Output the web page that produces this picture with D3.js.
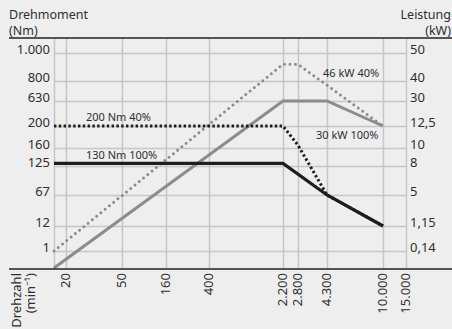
<!DOCTYPE html>
<html>
<head>
<meta charset="utf-8">
<script src="https://cdn.jsdelivr.net/npm/d3@7"></script>
<style>
  html, body { margin: 0; padding: 0; background: #eeeeee; }
  svg { display: block; }
  text { font-family: "Noto Sans", sans-serif; fill: #2e2e2e; }
</style>
</head>
<body>
<svg id="chart" width="452" height="329"></svg>
<script>
// Speed ticks (min^-1) and their labels
const speedTicks = [20, 50, 160, 400, 2200, 2800, 4300, 10000, 15000];
const speedLabels = ["20", "50", "160", "400", "2.200", "2.800", "4.300", "10.000", "15.000"];

// Torque ticks (Nm), left axis
const torqueTicks = [1000, 800, 630, 200, 160, 125, 67, 12, 1];
const torqueLabels = ["1.000", "800", "630", "200", "160", "125", "67", "12", "1"];

// Power ticks (kW), right axis, sharing the same grid rows
const powerTicks = [50, 40, 30, 12.5, 10, 8, 5, 1.15, 0.14];
const powerLabels = ["50", "40", "30", "12,5", "10", "8", "5", "1,15", "0,14"];

// Torque curves: [speed, torque]
const torque100 = [[0, 130], [2200, 130], [4300, 67], [10000, 12]];
const torque40 = [[0, 200], [2200, 200], [2800, 165], [4300, 67], [10000, 12]];

// Power curves: [speed, power]
const power100 = [[0, 0], [2200, 30], [4300, 30], [10000, 12.5]];
const power40 = [[0, 0.14], [2200, 46], [2800, 46], [10000, 12.5]];

const svg = d3.select("#chart");
const W = 452, H = 329;
const plot = { left: 54, right: 406, top: 38, bottom: 269 };

// Non-uniform (schematic) axes: piecewise linear scales over the tick positions
const x = d3.scaleLinear()
  .domain([0, 20, 50, 160, 400, 2200, 2800, 4300, 10000, 15000])
  .range([54, 66, 122, 166, 209, 283, 298, 327, 383, 406]);

const rowY = [268, 251, 226, 195, 166, 148, 126, 101, 81, 53];
const yT = d3.scaleLinear()
  .domain([0, 1, 12, 67, 125, 160, 200, 630, 800, 1000])
  .range(rowY);
const yP = d3.scaleLinear()
  .domain([0, 0.14, 1.15, 5, 8, 10, 12.5, 30, 40, 50])
  .range(rowY);

const gridColor = "#c6c6c6";

// Grid: horizontal rows
svg.append("g").selectAll("line").data(torqueTicks).join("line")
  .attr("x1", plot.left).attr("x2", plot.right)
  .attr("y1", d => Math.round(yT(d)) + 0.5).attr("y2", d => Math.round(yT(d)) + 0.5)
  .attr("stroke", gridColor).attr("stroke-width", 1.5);

// Grid: vertical columns, plus the left frame line
svg.append("g").selectAll("line").data([0, ...speedTicks]).join("line")
  .attr("x1", d => Math.round(x(d)) + 0.5).attr("x2", d => Math.round(x(d)) + 0.5)
  .attr("y1", plot.top).attr("y2", plot.bottom)
  .attr("stroke", gridColor).attr("stroke-width", 1.5);

// Power curves (grey)
const lineP = d3.line().x(d => x(d[0])).y(d => yP(d[1]));
svg.append("path").datum(power100)
  .attr("d", lineP).attr("fill", "none")
  .attr("stroke", "#8c8c8c").attr("stroke-width", 3);
svg.append("path").datum(power40)
  .attr("d", lineP).attr("fill", "none")
  .attr("stroke", "#8c8c8c").attr("stroke-width", 3)
  .attr("stroke-linecap", "round").attr("stroke-dasharray", "0,5.5");

// Torque curves (black)
const lineT = d3.line().x(d => x(d[0])).y(d => yT(d[1]));
svg.append("path").datum(torque100)
  .attr("d", lineT).attr("fill", "none")
  .attr("stroke", "#1e1e1e").attr("stroke-width", 3.2);
svg.append("path").datum(torque40)
  .attr("d", lineT).attr("fill", "none")
  .attr("stroke", "#1e1e1e").attr("stroke-width", 3)
  .attr("stroke-dasharray", "2.4,2.4");

// Curve annotations
const notes = [
  { text: "200 Nm 40%", x: 86, y: 121 },
  { text: "130 Nm 100%", x: 86, y: 159 },
  { text: "46 kW 40%", x: 323, y: 77 },
  { text: "30 kW 100%", x: 316, y: 139 }
];
svg.append("g").selectAll("text").data(notes).join("text")
  .attr("x", d => d.x).attr("y", d => d.y)
  .attr("font-size", 11).attr("fill", "#333")
  .text(d => d.text);

// Left tick labels (torque)
svg.append("g").selectAll("text").data(torqueTicks).join("text")
  .attr("x", 50).attr("y", d => yT(d) + 0.5)
  .attr("text-anchor", "end").attr("font-size", 13)
  .text((d, i) => torqueLabels[i]);

// Right tick labels (power)
svg.append("g").selectAll("text").data(powerTicks).join("text")
  .attr("x", 410).attr("y", d => yP(d) + 0.5)
  .attr("text-anchor", "start").attr("font-size", 13)
  .text((d, i) => powerLabels[i]);

// Bottom tick labels (speed), rotated
svg.append("g").selectAll("text").data(speedTicks).join("text")
  .attr("transform", d => `translate(${x(d) + 3.5},273) rotate(-90)`)
  .attr("text-anchor", "end").attr("font-size", 13)
  .text((d, i) => speedLabels[i]);

// Axis titles
svg.append("text").attr("x", 9).attr("y", 19).attr("font-size", 12.5).text("Drehmoment");
svg.append("text").attr("x", 9).attr("y", 35).attr("font-size", 12.5).text("(Nm)");
svg.append("text").attr("x", 451).attr("y", 19).attr("font-size", 12.5)
  .attr("text-anchor", "end").text("Leistung");
svg.append("text").attr("x", 451).attr("y", 35).attr("font-size", 12.5)
  .attr("text-anchor", "end").text("(kW)");
svg.append("text").attr("transform", "translate(21,273) rotate(-90)")
  .attr("text-anchor", "end").attr("font-size", 13).text("Drehzahl");
svg.append("text").attr("transform", "translate(35,273) rotate(-90)")
  .attr("text-anchor", "end").attr("font-size", 13).text("(min⁻¹)");

// Top and bottom rules
svg.append("line").attr("x1", 9).attr("x2", W).attr("y1", plot.top).attr("y2", plot.top)
  .attr("stroke", "#222").attr("stroke-width", 1.5);
svg.append("line").attr("x1", 9).attr("x2", W).attr("y1", plot.bottom).attr("y2", plot.bottom)
  .attr("stroke", "#222").attr("stroke-width", 1.5);
</script>
</body>
</html>
